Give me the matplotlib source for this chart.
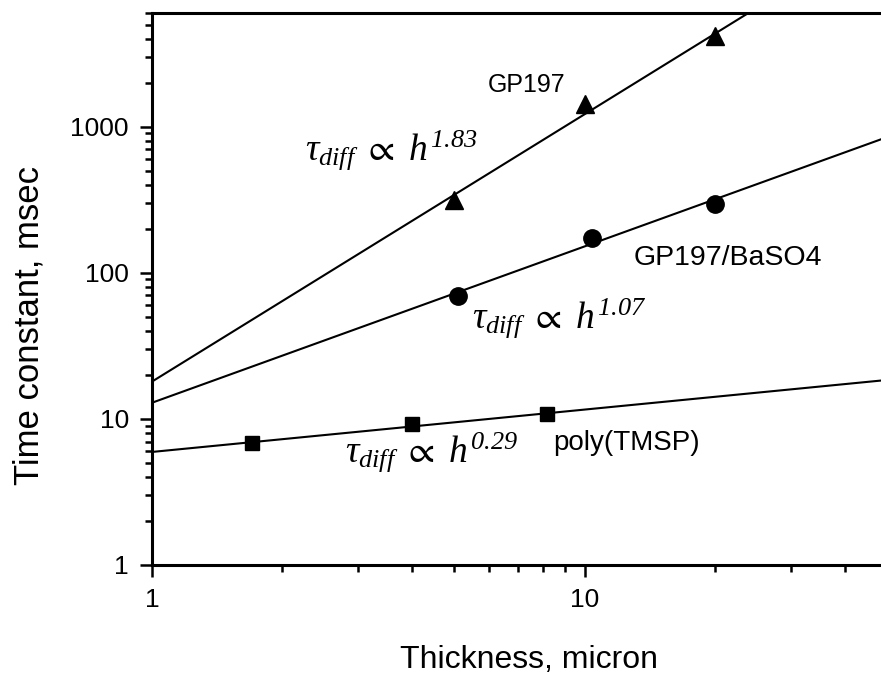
import numpy as np
import matplotlib
matplotlib.use("Agg")
import matplotlib.pyplot as plt
from matplotlib.ticker import LogLocator, FixedLocator, NullFormatter, FixedFormatter

plt.rcParams['font.family'] = ['Liberation Sans', 'DejaVu Sans']
plt.rcParams['mathtext.fontset'] = 'custom'
plt.rcParams['mathtext.it'] = 'Liberation Serif:italic'
plt.rcParams['mathtext.rm'] = 'Liberation Serif:italic'
plt.rcParams['mathtext.fallback'] = 'stix'

# Data (thickness in micron, time constant in msec)
gp197_h = [5.0, 10.0, 20.0]
gp197_t = [316.0, 1430.0, 4200.0]
baso4_h = [5.1, 10.4, 20.0]
baso4_t = [69.0, 174.0, 297.0]
tmsp_h = [1.7, 4.0, 8.2]
tmsp_t = [6.85, 9.25, 10.8]

# Power-law fit parameters: tau = A * h**n
fit_A = [18.0, 12.9, 5.94]
fit_n = [1.83, 1.07, 0.29]

xticks = [1, 10]
xticklabels = ['1', '10']
yticks = [1, 10, 100, 1000]
yticklabels = ['1', '10', '100', '1000']

fig = plt.figure(figsize=(8.81, 6.77), dpi=100)
ax = fig.add_axes([152/881, 112/677, 735/881, 552/677])
ax.set_xscale('log')
ax.set_yscale('log')
ax.set_xlim(1, 50)
ax.set_ylim(1, 6000)

hline = np.logspace(0, np.log10(50), 200)
for A, n in zip(fit_A, fit_n):
    ax.plot(hline, A * hline**n, color='black', lw=1.5, zorder=2)

ax.plot(gp197_h, gp197_t, '^', color='black', ms=13, zorder=3)
ax.plot(baso4_h, baso4_t, 'o', color='black', ms=12.5, zorder=3)
ax.plot(tmsp_h, tmsp_t, 's', color='black', ms=10.5, zorder=3)

ax.xaxis.set_major_locator(FixedLocator(xticks))
ax.xaxis.set_major_formatter(FixedFormatter(xticklabels))
ax.yaxis.set_major_locator(FixedLocator(yticks))
ax.yaxis.set_major_formatter(FixedFormatter(yticklabels))
ax.xaxis.set_minor_locator(LogLocator(base=10, subs=np.arange(2, 10), numticks=20))
ax.yaxis.set_minor_locator(LogLocator(base=10, subs=np.arange(2, 10), numticks=20))
ax.xaxis.set_minor_formatter(NullFormatter())
ax.yaxis.set_minor_formatter(NullFormatter())

ax.tick_params(which='major', direction='out', length=8.6, width=1.8, labelsize=19, pad=8)
ax.tick_params(which='minor', direction='out', length=5, width=1.8)
ax.spines['right'].set_visible(False)
for s in ['left', 'bottom', 'top']:
    ax.spines[s].set_linewidth(2.2)

fig.text(529/881, 1-660/677, 'Thickness, micron', fontsize=23, ha='center', va='center')
fig.text(29/881, 1-325/677, 'Time constant, msec', fontsize=25, ha='center', va='center',
         rotation=90)

fig.text(488/881, 1-85/677, 'GP197', fontsize=18, va='center', ha='left')
fig.text(634/881, 1-258/677, 'GP197/BaSO4', fontsize=20.5, va='center', ha='left')
fig.text(553/881, 1-443/677, 'poly(TMSP)', fontsize=20, va='center', ha='left')

fig.text(305/881, 1-150/677, r'$\tau_{diff}\ \propto\ h^{1.83}$', fontsize=27, va='center', ha='left')
fig.text(472/881, 1-318/677, r'$\tau_{diff}\ \propto\ h^{1.07}$', fontsize=27, va='center', ha='left')
fig.text(345/881, 1-452/677, r'$\tau_{diff}\ \propto\ h^{0.29}$', fontsize=27, va='center', ha='left')

fig.savefig('out.png', dpi=100)
